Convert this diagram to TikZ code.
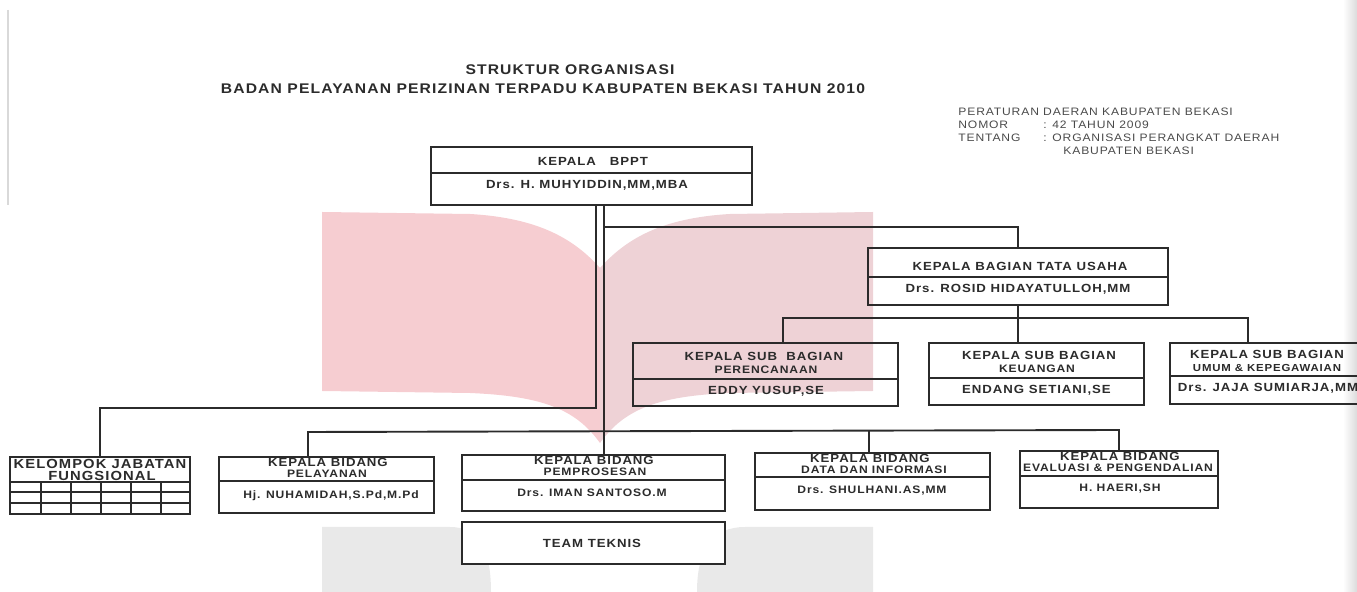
\documentclass[tikz,border=0pt]{standalone}
\usepackage{fontspec}
\setmainfont{Liberation Sans}
\newfontfamily\orgfont[FakeStretch=1.12,LetterSpace=8]{Liberation Sans}
\definecolor{ink}{HTML}{2B2B2B}
\definecolor{notegrey}{HTML}{4A4A4A}
\definecolor{wmpink}{HTML}{F6CDD1}
\definecolor{wmrose}{HTML}{EED2D6}
\definecolor{wmgrey}{HTML}{E9E9E9}
\tikzset{
  box/.style={draw=ink, line width=0.95pt, inner sep=0pt},
  conn/.style={draw=ink, line width=0.95pt},
  lbl/.style={font=\orgfont\bfseries\fontsize{5.9}{6}\selectfont, text=ink, inner sep=0pt},
  sub/.style={font=\orgfont\bfseries\fontsize{5.4}{6}\selectfont, text=ink, inner sep=0pt},
  sml/.style={font=\orgfont\bfseries\fontsize{5.1}{5}\selectfont, text=ink, inner sep=0pt},
  big/.style={font=\orgfont\bfseries\fontsize{6.6}{7}\selectfont, text=ink, inner sep=0pt},
  ttl/.style={font=\orgfont\bfseries\fontsize{7}{8}\selectfont, text=ink, inner sep=0pt},
  note/.style={font=\orgfont\fontsize{5.4}{6}\selectfont, text=notegrey, inner sep=0pt, anchor=west},
}
\begin{document}
\begin{tikzpicture}[x=0.5pt,y=-0.5pt]
 \useasboundingbox (0,0) rectangle (1357,592);
 \clip (0,0) rectangle (1357,592);
 % watermark
 \fill[wmpink] (322,212) -- (470,214) .. controls (540,218) and (575,240) .. (600,268)
   -- (600,443) .. controls (575,408) and (540,396) .. (470,393) -- (322,391) -- cycle;
 \fill[wmrose] (600,268) .. controls (625,240) and (660,218) .. (730,214) -- (873,212)
   -- (873,391) -- (730,393) .. controls (660,396) and (625,408) .. (600,443) -- cycle;
 \fill[wmgrey] (322,527) -- (450,527) .. controls (478,527) and (491,548) .. (491,592) -- (322,592) -- cycle;
 \fill[wmgrey] (873,527) -- (745,527) .. controls (712,527) and (697,550) .. (697,592) -- (873,592) -- cycle;
 \shade[left color=white, right color=black!14] (1343,0) rectangle (1357,592);
 \draw[black!15, line width=0.6pt] (8,10) -- (8,205);

 % title and note
 \node[ttl] (title1) at (570,70) {STRUKTUR ORGANISASI};
 \node[ttl] (title2) at (543,89) {BADAN PELAYANAN PERIZINAN TERPADU KABUPATEN BEKASI TAHUN 2010};
 \node[note] (perda) at (958,112) {PERATURAN DAERAN KABUPATEN BEKASI};
 \node[note] (nomor) at (958,125) {NOMOR};
 \node[note] (nomorv) at (1043,125) {: 42 TAHUN 2009};
 \node[note] (tentang) at (958,138) {TENTANG};
 \node[note] (tentangv) at (1043,138) {: ORGANISASI PERANGKAT DAERAH};
 \node[note] (tentangw) at (1063,151) {KABUPATEN BEKASI};

 % boxes
 \node[box, minimum width=160.5pt, minimum height=29pt] (kepala) at (591.5,176) {};
 \node[box, minimum width=150pt, minimum height=28.5pt] (tu) at (1018,276.5) {};
 \node[box, minimum width=132.5pt, minimum height=31.5pt] (sbpr) at (765.5,374.5) {};
 \node[box, minimum width=107.5pt, minimum height=31pt] (sbku) at (1036.5,374) {};
 \node[box, minimum width=100pt, minimum height=30.5pt] (sbum) at (1270,373.5) {};
 \node[box, minimum width=90pt, minimum height=28.5pt] (kjf) at (100,485.5) {};
 \node[box, minimum width=107.5pt, minimum height=28pt] (bpel) at (326.5,485) {};
 \node[box, minimum width=131.5pt, minimum height=28pt] (bpro) at (593.5,483) {};
 \node[box, minimum width=117.5pt, minimum height=28.5pt] (bdat) at (872.5,481.5) {};
 \node[box, minimum width=99pt, minimum height=28.5pt] (bev) at (1119,479.5) {};
 \node[box, fill=white, minimum width=131.5pt, minimum height=21pt] (team) at (593.5,543) {};

 % dividers
 \draw[conn] (kepala.west |- 0,173) -- (kepala.east |- 0,173);
 \draw[conn] (tu.west |- 0,277) -- (tu.east |- 0,277);
 \draw[conn] (sbpr.west |- 0,379) -- (sbpr.east |- 0,379);
 \draw[conn] (sbku.west |- 0,378) -- (sbku.east |- 0,378);
 \draw[conn] (sbum.west |- 0,376) -- (sbum.east |- 0,376);
 \draw[conn] (bpel.west |- 0,481) -- (bpel.east |- 0,481);
 \draw[conn] (bpro.west |- 0,480) -- (bpro.east |- 0,480);
 \draw[conn] (bdat.west |- 0,477) -- (bdat.east |- 0,477);
 \draw[conn] (bev.west |- 0,476) -- (bev.east |- 0,476);
 \foreach \y in {482,492,503}
   \draw[conn] (kjf.west |- 0,\y) -- (kjf.east |- 0,\y);
 \foreach \x in {41,71,101,131,161}
   \draw[conn] (\x,482) -- (\x,0 |- kjf.south);

 % texts
 \node[lbl] (kepalaA) at (593,161) {KEPALA\hspace{7pt}BPPT};
 \node[lbl] (kepalaB) at (587,185) {Drs. H. MUHYIDDIN,MM,MBA};
 \node[lbl] (tuA) at (1020,266) {KEPALA BAGIAN TATA USAHA};
 \node[lbl] (tuB) at (1018,289) {Drs. ROSID HIDAYATULLOH,MM};
 \node[lbl] (sbprA) at (764,356) {KEPALA SUB~ BAGIAN};
 \node[sub] (sbprB) at (766,370) {PERENCANAAN};
 \node[lbl] (sbprC) at (766,391) {EDDY YUSUP,SE};
 \node[lbl] (sbkuA) at (1039,355) {KEPALA SUB BAGIAN};
 \node[sub] (sbkuB) at (1037,369) {KEUANGAN};
 \node[lbl] (sbkuC) at (1036.5,390) {ENDANG SETIANI,SE};
 \node[lbl] (sbumA) at (1267,354) {KEPALA SUB BAGIAN};
 \node[sml] (sbumB) at (1267,368) {UMUM \& KEPEGAWAIAN};
 \node[lbl] (sbumC) at (1268,388) {Drs. JAJA SUMIARJA,MM};
 \node[big] (kjfA) at (100,464) {KELOMPOK JABATAN};
 \node[big] (kjfB) at (102,476) {FUNGSIONAL};
 \node[lbl] (bpelA) at (328,462) {KEPALA BIDANG};
 \node[sub] (bpelB) at (327,474) {PELAYANAN};
 \node[sub] (bpelC) at (331,496) {Hj. NUHAMIDAH,S.Pd,M.Pd};
 \node[lbl] (bproA) at (594,460) {KEPALA BIDANG};
 \node[sub] (bproB) at (595,472) {PEMPROSESAN};
 \node[sub] (bproC) at (592,493) {Drs. IMAN SANTOSO.M};
 \node[lbl] (bdatA) at (870,458) {KEPALA BIDANG};
 \node[sub] (bdatB) at (874,470) {DATA DAN INFORMASI};
 \node[sub] (bdatC) at (872,491) {Drs. SHULHANI.AS,MM};
 \node[lbl] (bevA) at (1120,456) {KEPALA BIDANG};
 \node[sub] (bevB) at (1118,468) {EVALUASI \& PENGENDALIAN};
 \node[sub] (bevC) at (1120,489) {H. HAERI,SH};
 \node[lbl] (teamA) at (592,543) {TEAM TEKNIS};

 % connectors
 \coordinate (lft) at (596,408);
 \coordinate (ctr) at (604,431);
 \coordinate (tuj) at (604,227);
 \coordinate (sbL) at (783,318);
 \coordinate (sbR) at (1248,318);
 \coordinate (bdL) at (308,432);
 \coordinate (bdD) at (869,431);
 \coordinate (bdR) at (1119,430);
 \draw[conn] (lft |- kepala.south) -- (lft) -| (kjf.north);
 \draw[conn] (ctr |- kepala.south) -- (ctr |- bpro.north);
 \draw[conn] (tuj) -| (tu.north);
 \draw[conn] (tu.south) -- (tu.south |- sbku.north);
 \draw[conn] (sbL |- sbpr.north) -- (sbL) -- (sbR) -- (sbR |- sbum.north);
 \draw[conn] (bdL |- bpel.north) -- (bdL) -- (bdR) -- (bev.north);
 \draw[conn] (bdD) -- (bdD |- bdat.north);
\end{tikzpicture}
\end{document}
